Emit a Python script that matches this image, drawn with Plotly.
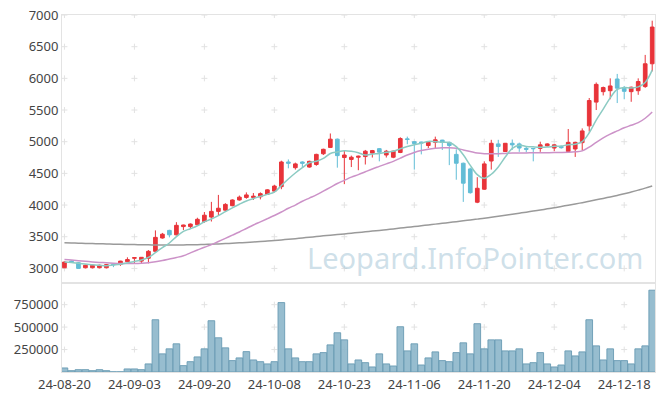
import plotly.graph_objects as go
from plotly.subplots import make_subplots

# -------------------------------------------------
# Data
# -------------------------------------------------
dates = [
    "24-08-20", "24-08-21", "24-08-22", "24-08-23", "24-08-26", "24-08-27", "24-08-28", "24-08-29", "24-08-30",
    "24-09-02", "24-09-03", "24-09-04", "24-09-05", "24-09-06", "24-09-09", "24-09-10", "24-09-11", "24-09-12",
    "24-09-13", "24-09-19", "24-09-20", "24-09-23", "24-09-24", "24-09-25", "24-09-26", "24-09-27", "24-09-30",
    "24-10-02", "24-10-04", "24-10-07", "24-10-08", "24-10-10", "24-10-11", "24-10-14", "24-10-15", "24-10-16",
    "24-10-17", "24-10-18", "24-10-21", "24-10-22", "24-10-23", "24-10-24", "24-10-25", "24-10-28", "24-10-29",
    "24-10-30", "24-10-31", "24-11-01", "24-11-04", "24-11-05", "24-11-06", "24-11-07", "24-11-08", "24-11-11",
    "24-11-12", "24-11-13", "24-11-14", "24-11-15", "24-11-18", "24-11-19", "24-11-20", "24-11-21", "24-11-22",
    "24-11-25", "24-11-26", "24-11-27", "24-11-28", "24-11-29", "24-12-02", "24-12-03", "24-12-04", "24-12-05",
    "24-12-06", "24-12-09", "24-12-10", "24-12-11", "24-12-12", "24-12-13", "24-12-16", "24-12-17", "24-12-18",
    "24-12-19", "24-12-20", "24-12-23", "24-12-24",
]

opens = [
    3010, 3115, 3090, 3010, 3010, 3010, 3010, 3070, 3065, 3105,
    3160, 3115, 3160, 3270, 3480, 3600, 3530, 3660, 3660, 3690,
    3740, 3810, 3900, 3920, 3990, 4080, 4120, 4120, 4130, 4170,
    4220, 4290, 4680, 4590, 4680, 4600, 4640, 4810, 4910, 5040,
    4750, 4720, 4755, 4765, 4820, 4890, 4790, 4755, 4830, 5045,
    5000, 4995, 4940, 4990, 5025, 4990, 4800, 4660, 4570, 4045,
    4250, 4695, 4965, 4845, 4975, 4965, 4895, 4895, 4895, 4935,
    4900, 4925, 4845, 4885, 4985, 5250, 5625, 5790, 5805, 5990,
    5845, 5790, 5805, 5870, 6230,
]
highs = [
    3110, 3125, 3100, 3060, 3060, 3060, 3070, 3075, 3120, 3175,
    3180, 3180, 3290, 3600, 3560, 3610, 3730, 3690, 3710, 3800,
    3890, 4050, 4160, 4030, 4090, 4150, 4200, 4190, 4200, 4250,
    4320, 4700, 4720, 4670, 4690, 4700, 4810, 4890, 5130, 5050,
    4860, 4780, 4780, 4870, 4870, 4900, 4870, 4860, 5070, 5080,
    5010, 5000, 5000, 5080, 5030, 5000, 4880, 4670, 4590, 4440,
    4690, 5030, 5030, 4980, 5035, 4985, 4930, 4900, 5000, 4975,
    4960, 4935, 5200, 5000, 5210, 5690, 5935, 5870, 6000, 6070,
    5880, 5870, 6000, 6370, 6910,
]
lows = [
    3005, 3085, 2995, 3000, 3000, 3000, 3000, 3020, 3040, 3100,
    3080, 3070, 3080, 3260, 3470, 3490, 3520, 3605, 3630, 3670,
    3720, 3740, 3840, 3910, 3980, 4070, 4100, 4080, 4090, 4160,
    4200, 4250, 4580, 4560, 4600, 4590, 4620, 4790, 4900, 4590,
    4330, 4600, 4550, 4640, 4750, 4690, 4750, 4740, 4820, 4960,
    4560, 4800, 4900, 4900, 4870, 4630, 4400, 4050, 4180, 4030,
    4240, 4560, 4760, 4840, 4870, 4840, 4830, 4690, 4840, 4920,
    4850, 4890, 4840, 4760, 4860, 5160, 5500, 5730, 5670, 5610,
    5670, 5630, 5740, 5850, 6110,
]
closes = [
    3100, 3095, 3000, 3050, 3050, 3050, 3060, 3060, 3115, 3140,
    3170, 3175, 3270, 3490, 3540, 3530, 3680, 3685, 3700, 3775,
    3840, 3900, 3950, 4010, 4080, 4125, 4160, 4140, 4180, 4240,
    4300, 4680, 4660, 4650, 4660, 4690, 4800, 4880, 5040, 4780,
    4790, 4755, 4770, 4850, 4860, 4835, 4850, 4850, 5050, 5035,
    4970, 4980, 4990, 5030, 4990, 4940, 4660, 4345, 4195, 4265,
    4650, 4975, 4925, 4975, 4950, 4900, 4880, 4890, 4950, 4965,
    4950, 4905, 4990, 4990, 5170, 5650, 5905, 5855, 5880, 5845,
    5795, 5860, 5950, 6230, 6810,
]

ma5 = [
    3100, 3095, 3080, 3068, 3059, 3049, 3042, 3054, 3067, 3085,
    3109, 3132, 3174, 3249, 3329, 3401, 3502, 3585, 3627, 3674,
    3736, 3780, 3833, 3895, 3956, 4013, 4065, 4103, 4137, 4169,
    4204, 4308, 4412, 4506, 4590, 4668, 4692, 4736, 4814, 4838,
    4858, 4849, 4827, 4789, 4805, 4814, 4833, 4849, 4889, 4924,
    4951, 4977, 5005, 5001, 4992, 4986, 4922, 4793, 4626, 4481,
    4423, 4486, 4602, 4758, 4895, 4945, 4926, 4919, 4914, 4917,
    4927, 4932, 4952, 4960, 5001, 5141, 5341, 5514, 5692, 5827,
    5856, 5847, 5866, 5936, 6129,
]
ma20 = [
    3140, 3132, 3122, 3112, 3103, 3095, 3088, 3082, 3078, 3077,
    3078, 3082, 3090, 3104, 3124, 3148, 3172, 3200, 3245, 3290,
    3335, 3375, 3425, 3475, 3525, 3575, 3630, 3685, 3735, 3785,
    3835, 3890, 3950, 4000, 4060, 4110, 4160, 4220, 4280, 4340,
    4390, 4440, 4480, 4525, 4570, 4610, 4650, 4690, 4740, 4790,
    4830, 4860, 4880, 4895, 4905, 4905, 4895, 4870, 4845, 4820,
    4810, 4808, 4810, 4815, 4820, 4822, 4823, 4825, 4826, 4827,
    4828, 4830, 4833, 4840, 4855, 4915, 4990, 5060, 5120, 5170,
    5220, 5260, 5300, 5370, 5470,
]
ma120 = [
    3404, 3401, 3398, 3395, 3392, 3389, 3386, 3383, 3380, 3378,
    3376, 3374, 3372, 3371, 3370, 3369, 3370, 3371, 3373, 3375,
    3378, 3382, 3387, 3392, 3398, 3404, 3410, 3417, 3424, 3432,
    3440, 3450, 3460, 3470, 3481, 3492, 3503, 3514, 3525, 3535,
    3545, 3556, 3567, 3578, 3589, 3600, 3612, 3624, 3636, 3648,
    3660, 3673, 3686, 3699, 3712, 3725, 3738, 3751, 3764, 3778,
    3792, 3808, 3824, 3840, 3856, 3872, 3888, 3905, 3922, 3940,
    3958, 3978, 3998, 4018, 4038, 4060, 4082, 4105, 4128, 4152,
    4177, 4206, 4236, 4267, 4300,
]

volumes = [
    45000, 15000, 26000, 26000, 15000, 26000, 15000, 2000, 2000, 34000,
    34000, 26000, 90000, 582000, 202000, 258000, 314000, 71000, 115000, 168000,
    258000, 571000, 381000, 269000, 127000, 157000, 227000, 134000, 115000, 90000,
    115000, 773000, 258000, 157000, 115000, 115000, 202000, 216000, 302000, 437000,
    358000, 90000, 134000, 104000, 56000, 202000, 90000, 67000, 504000, 235000,
    314000, 78000, 157000, 224000, 127000, 115000, 216000, 325000, 202000, 538000,
    258000, 358000, 358000, 235000, 235000, 258000, 90000, 104000, 216000, 90000,
    56000, 78000, 235000, 179000, 224000, 582000, 291000, 134000, 258000, 127000,
    127000, 90000, 258000, 291000, 911000,
]

price_ticks = [3000, 3500, 4000, 4500, 5000, 5500, 6000, 6500, 7000]
volume_ticks = [250000, 500000, 750000]
date_ticks = dates[::10]

# -------------------------------------------------
# Figure
# -------------------------------------------------
fig = make_subplots(rows=2, cols=1, shared_xaxes=True, vertical_spacing=0)

# volume
fig.add_trace(go.Bar(
    x=dates, y=volumes,
    marker=dict(color="rgba(140,182,202,0.9)", line=dict(color="rgba(105,155,180,0.9)", width=1)),
), row=2, col=1)

# moving averages
fig.add_trace(go.Scatter(x=dates, y=ma120, mode="lines",
                         line=dict(color="#9a9a9a", width=1.5, shape="spline")), row=1, col=1)
fig.add_trace(go.Scatter(x=dates, y=ma20, mode="lines",
                         line=dict(color="#cc92c8", width=1.5, shape="spline")), row=1, col=1)
fig.add_trace(go.Scatter(x=dates, y=ma5, mode="lines",
                         line=dict(color="#8ccbc3", width=1.5, shape="spline")), row=1, col=1)

# candles (red = up, blue = down)
fig.add_trace(go.Candlestick(
    x=dates, open=opens, high=highs, low=lows, close=closes,
    increasing=dict(line=dict(color="#e8343a", width=1), fillcolor="#e8343a"),
    decreasing=dict(line=dict(color="#62bdd6", width=1), fillcolor="#62bdd6"),
    whiskerwidth=0,
), row=1, col=1)

# grid "+" marks at tick intersections, kept below the data
def add_cross(xv, yv, xref, yref):
    style = dict(type="line", layer="below", line=dict(color="#e2e2e2", width=1),
                 xref=xref, yref=yref)
    fig.add_shape(xsizemode="pixel", xanchor=xv, x0=-3, x1=3, y0=yv, y1=yv, **style)
    fig.add_shape(ysizemode="pixel", yanchor=yv, y0=-3, y1=3, x0=xv, x1=xv, **style)

for d in date_ticks:
    for p in price_ticks:
        add_cross(d, p, "x", "y")
    for v in volume_ticks:
        add_cross(d, v, "x2", "y2")

axis_common = dict(
    showline=True, linecolor="#e3e3e3", linewidth=1, mirror=True,
    showgrid=False, zeroline=False, ticks="", automargin=False,
    tickfont=dict(family="Noto Sans", size=13, color="#444444"),
)

fig.update_xaxes(type="category", categoryorder="array", categoryarray=dates,
                 range=[-0.35, 84.4], rangeslider_visible=False,
                 tickvals=date_ticks, ticktext=date_ticks, tickangle=0, **axis_common)
fig.update_xaxes(showticklabels=False, row=1, col=1)
fig.update_yaxes(range=[2768, 7000], tickvals=price_ticks, tickformat="d", domain=[0.249, 1.0],
                 row=1, col=1, **axis_common)
fig.update_yaxes(range=[0, 990000], tickvals=volume_ticks, tickformat="d", domain=[0.0, 0.249],
                 row=2, col=1, **axis_common)

# watermark
fig.add_annotation(
    text="Leopard.InfoPointer.com", xref="paper", yref="paper",
    x=0.985, y=0.322, xanchor="right", yanchor="middle", showarrow=False,
    font=dict(family="Noto Sans", size=29, color="rgba(165,198,215,0.55)"),
)

fig.update_layout(
    width=665, height=400,
    margin=dict(l=62, r=10, t=15, b=28),
    showlegend=False,
    plot_bgcolor="white", paper_bgcolor="white",
    bargap=0.05, boxgap=0.25,
)

# drop the page's default 8px body margin so the figure sits at (0, 0)
fig.write_html("out.html", config={"displayModeBar": False},
               post_script="document.body.style.margin = '0px';")
